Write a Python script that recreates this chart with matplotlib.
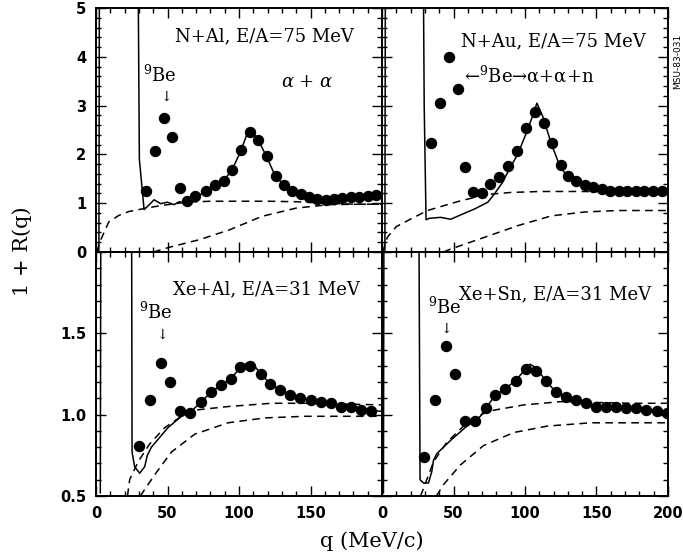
import matplotlib.pyplot as plt
from matplotlib.ticker import MultipleLocator

plt.rcParams['mathtext.fontset'] = 'dejavuserif'

# ---- N+Al, E/A=75 MeV ----
nal_q = [35.2, 41.0, 47.3, 53.4, 58.5, 63.9, 69.2, 76.7, 83.2, 89.3, 94.9, 101.4, 107.5, 113.3,
         119.4, 125.7, 131.5, 137.3, 143.1, 149.0, 154.8, 160.6, 166.5, 172.3, 178.0, 184.0, 190.0, 195.6]
nal_r = [1.24, 2.07, 2.74, 2.36, 1.31, 1.04, 1.14, 1.26, 1.37, 1.45, 1.69, 2.10, 2.45, 2.30,
         1.97, 1.55, 1.38, 1.24, 1.18, 1.13, 1.09, 1.07, 1.09, 1.10, 1.12, 1.13, 1.14, 1.16]
nal_model_q = [2.0, 2.5, 28.9, 30.3, 33.6, 35.9, 40.6, 45.2, 49.9, 54.6, 58.1, 62.7, 69, 77, 83, 89,
               95, 101, 106, 108, 113, 119, 125, 131, 137, 143, 150, 160, 170, 180, 190, 200]
nal_model_r = [-0.1, 8.0, 8.0, 1.9, 0.87, 0.93, 1.07, 0.99, 1.02, 0.97, 1.03, 1.0, 1.12, 1.24, 1.35, 1.45,
               1.68, 2.05, 2.45, 2.50, 2.32, 1.97, 1.58, 1.38, 1.25, 1.17, 1.12, 1.08, 1.10, 1.12, 1.13, 1.15]
nal_bg1_q = [0.5, 3.3, 9, 16, 23, 33.6, 45, 63, 80, 100, 120, 140, 160, 180, 200]
nal_bg1_r = [0.0, 0.25, 0.62, 0.75, 0.83, 0.89, 0.95, 1.02, 1.04, 1.04, 1.04, 1.03, 1.0, 0.98, 0.98]
nal_bg2_q = [40, 53, 72, 93, 116, 140, 163, 185, 200]
nal_bg2_r = [0.0, 0.11, 0.25, 0.45, 0.73, 0.90, 0.97, 0.98, 0.98]

# ---- N+Au, E/A=75 MeV ----
nau_q = [34.6, 40.5, 47.0, 52.9, 58.0, 63.4, 69.7, 75.8, 82.1, 88.4, 94.2, 100.4, 106.7, 113.0,
         119.1, 125.4, 130.0, 136.0, 141.8, 147.7, 153.5, 159.5, 165.5, 171.5, 177.5, 183.5, 189.5, 195.8]
nau_r = [2.23, 3.05, 3.99, 3.34, 1.74, 1.22, 1.21, 1.40, 1.54, 1.76, 2.07, 2.54, 2.87, 2.65,
         2.23, 1.79, 1.55, 1.45, 1.38, 1.34, 1.29, 1.26, 1.25, 1.25, 1.25, 1.25, 1.25, 1.24]
nau_model_q = [2.0, 2.5, 28.4, 29.5, 30.8, 33, 41, 48, 55, 64.6, 74, 78.6, 84.4, 88, 95, 100.8,
               105.5, 108.3, 112.5, 118.4, 124.2, 130, 139.4, 153.5, 170, 185, 200]
nau_model_r = [-0.1, 8.0, 8.0, 3.0, 0.66, 0.69, 0.71, 0.67, 0.76, 0.88, 1.02, 1.19, 1.43, 1.64, 2.01, 2.43,
               2.80, 3.05, 2.77, 2.22, 1.77, 1.53, 1.40, 1.29, 1.25, 1.24, 1.24]
nau_bg1_q = [0.5, 3.7, 10, 17.8, 31.8, 55, 74, 90, 111, 140, 170, 200]
nau_bg1_r = [0.0, 0.30, 0.52, 0.64, 0.85, 1.05, 1.18, 1.22, 1.24, 1.24, 1.23, 1.22]
nau_bg2_q = [43, 48, 71.6, 95, 118.4, 141.8, 165, 200]
nau_bg2_r = [0.0, 0.06, 0.30, 0.54, 0.74, 0.82, 0.85, 0.85]

# ---- Xe+Al, E/A=31 MeV ----
xal_q = [30.0, 37.5, 45.2, 51.7, 58.7, 66.0, 73.7, 80.6, 87.2, 94.2, 100.9, 107.9, 115.2, 121.9,
         128.9, 135.9, 142.9, 150.1, 157.1, 164.1, 171.1, 178.1, 185.1, 192.1]
xal_r = [0.81, 1.09, 1.32, 1.20, 1.02, 1.01, 1.08, 1.14, 1.18, 1.22, 1.29, 1.30, 1.25, 1.19,
         1.15, 1.12, 1.10, 1.09, 1.08, 1.07, 1.05, 1.05, 1.03, 1.02]
xal_model_q = [3.0, 3.5, 24.7, 25.2, 27, 30.5, 34, 35.9, 38.7, 50.3, 59.7, 66.5, 73.7, 80.6, 87.2, 94.2,
               100.9, 106, 110, 115.2, 121.9, 128.9, 135.9, 142.9, 150, 160, 170, 180, 190, 200]
xal_model_r = [0.52, 3.0, 3.0, 0.77, 0.68, 0.64, 0.68, 0.75, 0.80, 0.92, 0.99, 1.02, 1.08, 1.14, 1.18, 1.22,
               1.29, 1.32, 1.31, 1.25, 1.19, 1.15, 1.12, 1.10, 1.09, 1.08, 1.06, 1.05, 1.03, 1.02]
xal_bg1_q = [22, 23.5, 29.4, 37.5, 48, 59.7, 71.3, 92.3, 122.6, 150, 175, 200]
xal_bg1_r = [0.5, 0.6, 0.71, 0.82, 0.92, 0.99, 1.03, 1.05, 1.07, 1.07, 1.065, 1.06]
xal_bg2_q = [31, 34, 41, 52.7, 69, 92.3, 118, 146, 175, 200]
xal_bg2_r = [0.5, 0.54, 0.63, 0.77, 0.88, 0.95, 0.98, 0.99, 0.99, 0.99]

# ---- Xe+Sn, E/A=31 MeV ----
xsn_q = [29.7, 37.2, 44.6, 51.2, 57.8, 65.3, 72.5, 79.3, 86.3, 93.4, 100.4, 107.4, 114.5, 121.5,
         128.5, 135.6, 142.6, 149.6, 156.7, 163.7, 170.7, 177.7, 184.7, 192.5, 199.5]
xsn_r = [0.74, 1.09, 1.42, 1.25, 0.96, 0.96, 1.04, 1.12, 1.16, 1.21, 1.28, 1.27, 1.21, 1.14,
         1.11, 1.09, 1.07, 1.05, 1.05, 1.05, 1.04, 1.04, 1.03, 1.02, 1.01]
xsn_model_q = [1.0, 1.5, 25.4, 26.6, 29, 32.5, 34.8, 36, 38.3, 47.7, 59.4, 68.8, 72.5, 79.3, 86.3, 93.4,
               100.4, 103.5, 107.4, 114.5, 121.5, 128.5, 135.6, 142.6, 150, 160, 170, 180, 190, 200]
xsn_model_r = [0.52, 3.0, 3.0, 0.60, 0.58, 0.58, 0.65, 0.72, 0.76, 0.84, 0.93, 0.99, 1.04, 1.12, 1.16, 1.21,
               1.28, 1.31, 1.29, 1.21, 1.14, 1.11, 1.09, 1.07, 1.05, 1.05, 1.04, 1.04, 1.03, 1.01]
xsn_bg1_q = [27, 30, 36, 45.3, 57, 73.4, 99.2, 125, 150, 175, 200]
xsn_bg1_r = [0.5, 0.57, 0.71, 0.83, 0.93, 1.02, 1.06, 1.08, 1.075, 1.07, 1.07]
xsn_bg2_q = [38, 43, 54.7, 71, 92, 115.8, 146, 175, 200]
xsn_bg2_r = [0.5, 0.57, 0.69, 0.81, 0.89, 0.93, 0.95, 0.95, 0.95]

SERIF = 'DejaVu Serif'

fig, axes = plt.subplots(2, 2, figsize=(6.84, 5.58), dpi=100)
fig.subplots_adjust(left=0.1404, right=0.9766, top=0.9857, bottom=0.1111, wspace=0, hspace=0)


def draw_panel(ax, q, r, mq, mr, b1q, b1r, b2q, b2r):
    ax.plot(mq, mr, color='black', lw=1.1)
    ax.plot(b1q, b1r, color='black', lw=1.1, ls=(0, (5, 3.5)))
    ax.plot(b2q, b2r, color='black', lw=1.1, ls=(0, (5, 3.5)))
    ax.plot(q, r, 'o', color='black', ms=7.2, zorder=3)
    ax.set_xlim(0, 200)
    ax.xaxis.set_major_locator(MultipleLocator(50))
    ax.xaxis.set_minor_locator(MultipleLocator(10))
    ax.tick_params(which='both', direction='in', top=True, right=True, width=1.0)
    ax.tick_params(which='major', length=7, labelsize=10.5, pad=7)
    ax.tick_params(which='minor', length=3.5)
    for s in ax.spines.values():
        s.set_linewidth(1.4)


draw_panel(axes[0, 0], nal_q, nal_r, nal_model_q, nal_model_r, nal_bg1_q, nal_bg1_r, nal_bg2_q, nal_bg2_r)
draw_panel(axes[0, 1], nau_q, nau_r, nau_model_q, nau_model_r, nau_bg1_q, nau_bg1_r, nau_bg2_q, nau_bg2_r)
draw_panel(axes[1, 0], xal_q, xal_r, xal_model_q, xal_model_r, xal_bg1_q, xal_bg1_r, xal_bg2_q, xal_bg2_r)
draw_panel(axes[1, 1], xsn_q, xsn_r, xsn_model_q, xsn_model_r, xsn_bg1_q, xsn_bg1_r, xsn_bg2_q, xsn_bg2_r)

for ax in axes[0]:
    ax.set_ylim(0, 5)
    ax.yaxis.set_major_locator(MultipleLocator(1))
    ax.yaxis.set_minor_locator(MultipleLocator(0.2))
    ax.tick_params(labelbottom=False)
for ax in axes[1]:
    ax.set_ylim(0.5, 2.0)
    ax.yaxis.set_major_locator(MultipleLocator(0.5))
    ax.yaxis.set_minor_locator(MultipleLocator(0.1))
for ax in axes[:, 1]:
    ax.tick_params(labelleft=False)

axes[0, 0].set_yticks([0, 1, 2, 3, 4, 5])
axes[0, 0].set_yticklabels(['0', '1', '2', '3', '4', '5'], fontweight='bold')
axes[1, 0].set_yticks([0.5, 1.0, 1.5, 2.0])
axes[1, 0].set_yticklabels(['0.5', '1.0', '1.5', ''], fontweight='bold')
axes[1, 0].set_xticks([0, 50, 100, 150, 200])
axes[1, 0].set_xticklabels(['0', '50', '100', '150', ''], fontweight='bold')
axes[1, 1].set_xticks([0, 50, 100, 150, 200])
axes[1, 1].set_xticklabels(['0', '50', '100', '150', '200'], fontweight='bold')

# panel captions
tkw = dict(family=SERIF, fontsize=13, ha='center', va='center')
axes[0, 0].text(117.5, 4.41, 'N+Al, E/A=75 MeV', **tkw)
axes[0, 0].text(44.8, 3.63, r'$^{9}$Be', **tkw)
axes[0, 0].text(48.7, 3.18, '↓', family=SERIF, fontsize=10, ha='center', va='center')
axes[0, 0].text(148, 3.48, r'$\alpha$ + $\alpha$', **tkw)

axes[0, 1].text(120, 4.32, 'N+Au, E/A=75 MeV', **tkw)
axes[0, 1].text(57.5, 3.63, '←$^{9}$Be→α+α+n', family=SERIF, fontsize=13, ha='left', va='center')

axes[1, 0].text(119, 1.77, 'Xe+Al, E/A=31 MeV', **tkw)
axes[1, 0].text(42, 1.63, r'$^{9}$Be', **tkw)
axes[1, 0].text(46, 1.49, '↓', family=SERIF, fontsize=10, ha='center', va='center')

axes[1, 1].text(121.3, 1.74, 'Xe+Sn, E/A=31 MeV', **tkw)
axes[1, 1].text(43.7, 1.66, r'$^{9}$Be', **tkw)
axes[1, 1].text(44.9, 1.53, '↓', family=SERIF, fontsize=10, ha='center', va='center')

fig.text(0.032, 0.55, '1 + R(q)', family=SERIF, fontsize=15, rotation=90, ha='center', va='center')
fig.text(0.543, 0.03, 'q (MeV/c)', family=SERIF, fontsize=15, ha='center', va='center')
fig.text(0.99, 0.89, 'MSU-83-031', fontsize=6.5, rotation=90, ha='center', va='center')

fig.savefig('out.png', dpi=100)
